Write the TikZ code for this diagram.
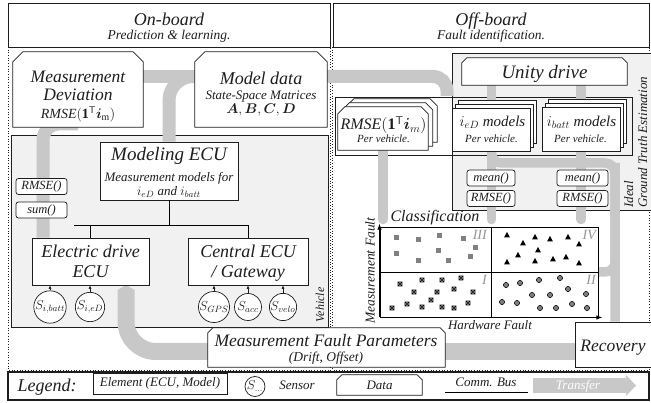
\RequirePackage{fix-cm}
\documentclass[tikz,border=0pt]{standalone}
\usepackage{amsmath}
\usepackage{bm}
\usepackage{fontspec}
\setmainfont{Liberation Serif}
\usetikzlibrary{arrows.meta}
\pgfdeclarelayer{back}
\pgfdeclarelayer{bg}
\pgfsetlayers{back,bg,main}
\newcommand\fsz[2]{\fontsize{#1}{#2}\selectfont}
\newcommand\databox[2]{\filldraw[datafill] (#1.south west) -- ([yshift=-#2]#1.north west) -- ([xshift=#2]#1.north west) -- ([xshift=-#2]#1.north east) -- ([yshift=-#2]#1.north east) -- (#1.south east) -- cycle;}
\newcommand\rmsem{\mathit{RMSE}(\mathbf{1}^{\mathsf{T}}\bm{i}_{\mathrm{m}})}
\definecolor{bandc}{RGB}{200,200,200}
\definecolor{panel}{RGB}{241,241,241}
\definecolor{ink}{RGB}{30,30,30}
\definecolor{sqc}{RGB}{128,128,128}
\definecolor{cic}{RGB}{125,125,125}
\definecolor{qlab}{RGB}{150,150,150}
\begin{document}
\begin{tikzpicture}[x=1pt,y=-1pt,
  every node/.style={text=ink, inner sep=0pt},
  geo/.style={rectangle, inner sep=0pt},
  elem/.style={rectangle, draw=ink, fill=white, line width=0.8pt, inner sep=0pt},
  datafill/.style={draw=ink, fill=white, line width=0.8pt},
  fn/.style={rectangle, draw=ink, fill=white, line width=0.7pt, rounded corners=2.5pt, inner sep=0pt, minimum height=16pt, font=\itshape\fsz{12.5}{12.5}},
  sensor/.style={circle, draw=ink, fill=white, line width=0.7pt, inner sep=0pt, minimum size=27pt, font=\fsz{13}{13}},
  tx/.style={font=\itshape\fsz{#1}{#1}, anchor=base},
  band/.style={draw=bandc, line width=13pt},
  bandn/.style={draw=bandc, line width=9.5pt},
  bandw/.style={draw=bandc, line width=17pt},
  bus/.style={draw=black, line width=0.9pt},
  sarrow/.style={draw=ink, line width=0.6pt, -{Latex[length=3.5pt,width=3pt]}},
  axis/.style={draw=black, line width=1pt, -{Latex[length=6pt,width=4.5pt]}},
]
\useasboundingbox (0,0) rectangle (651,403);

% ---------------- headers
\node[elem, minimum width=322pt, minimum height=44pt] (onb) at (169,25) {};
\node[tx=18] (onbT) at (169,26) {On-board};
\node[tx=13.5] (onbS) at (169,40) {Prediction \& learning.};
\node[elem, minimum width=316pt, minimum height=44pt] (offb) at (491,25) {};
\node[tx=18] (offbT) at (491,26) {Off-board};
\node[tx=13.5] (offbS) at (491,40) {Fault identification.};

% ---------------- on-board
\node[geo, minimum width=130pt, minimum height=75pt] (measdev) at (78,89.5) {};
\databox{measdev}{10pt}
\node[tx=17.5] (measdevA) at (78,83) {Measurement};
\node[tx=17.5] (measdevB) at (78,101) {Deviation};
\node[tx=14] (measdevC) at (78,118.5) {$\rmsem$};

\node[geo, minimum width=132pt, minimum height=75pt] (modeldata) at (261,89.5) {};
\databox{modeldata}{10pt}
\node[tx=18] (mdA) at (261,85) {Model data};
\node[tx=13] (mdB) at (261,100) {State-Space Matrices};
\node[tx=14] (mdC) at (261,114) {$\bm{A},\bm{B},\bm{C},\bm{D}$};

\node[elem, minimum width=138pt, minimum height=58pt] (modecu) at (169,171) {};
\node[tx=19] (modecuA) at (169,161) {Modeling ECU};
\node[tx=13] (modecuB) at (169,181.5) {Measurement models for};
\node[tx=13] (modecuC) at (169,196) {$i_{eD}$ and $i_{batt}$};

\node[fn, minimum width=51pt] (rmsefn) at (41.5,186.5) {RMSE()};
\node[fn, minimum width=51pt] (sumfn) at (41.5,210) {sum()};

\node[elem, minimum width=117pt, minimum height=47pt] (elec) at (90.5,261.5) {};
\node[tx=18] (elecA) at (90.5,258) {Electric drive};
\node[tx=18] (elecB) at (90.5,278) {ECU};
\node[elem, minimum width=120pt, minimum height=47pt] (central) at (248,261.5) {};
\node[tx=18] (centralA) at (248,258) {Central ECU};
\node[tx=18] (centralB) at (248,278) {/ Gateway};

\node[sensor] (sib) at (50,307) {$S_{i,batt}$};
\node[sensor] (sie) at (90,307) {$S_{i,eD}$};
\node[sensor] (sgps) at (214,307) {$S_{GPS}$};
\node[sensor] (sacc) at (248,307) {$S_{acc}$};
\node[sensor] (svelo) at (283,307) {$S_{velo}$};
\draw[sarrow] (sib) -- (sib |- elec.south);
\draw[sarrow] (sie) -- (sie |- elec.south);
\draw[sarrow] (sgps) -- (sgps |- central.south);
\draw[sarrow] (sacc) -- (sacc |- central.south);
\draw[sarrow] (svelo) -- (svelo |- central.south);

\coordinate (busL) at (74,225);
\draw[bus] (modecu.south) -- (modecu.south |- busL);
\draw[bus] (busL) -- (central.north |- busL);
\draw[bus] (elec.north |- busL) -- (elec.north);
\draw[bus] (central.north |- busL) -- (central.north);

\node[tx=12, rotate=90] (vehlbl) at (324,305) {Vehicle};

\node[geo, minimum width=237pt, minimum height=39pt] (mfp) at (326.5,347.5) {};
\databox{mfp}{5pt}
\node[tx=17.5] (mfpA) at (326,347) {Measurement Fault Parameters};
\node[tx=13.5] (mfpB) at (326,362) {(Drift, Offset)};

\node[elem, minimum width=76pt, minimum height=45pt] (recovery) at (613,344.5) {};
\node[tx=17.5] (recoveryT) at (613,351.5) {Recovery};

% ---------------- off-board
\node[geo, minimum width=165pt, minimum height=27pt] (unity) at (544.5,71.5) {};
\databox{unity}{5pt}
\node[tx=19] (unityT) at (544.5,78.5) {Unity drive};

\node[geo, minimum width=90pt, minimum height=43pt] (rmsesB) at (392,120.5) {};
\databox{rmsesB}{7pt}
\node[geo, minimum width=90pt, minimum height=43pt] (rmsesA) at (387.5,124.5) {};
\databox{rmsesA}{7pt}
\node[geo, minimum width=90pt, minimum height=43pt] (rmses) at (383,128.5) {};
\databox{rmses}{7pt}
\node[tx=16] (rmsesT) at (383.5,130) {$\mathit{RMSE}(\mathbf{1}^{\mathsf{T}}\bm{i}_{m})$};
\node[tx=11] (rmsesP) at (383.5,143) {Per vehicle.};

\node[elem, minimum width=78pt, minimum height=43pt] (iedB) at (497.5,121.5) {};
\node[elem, minimum width=78pt, minimum height=43pt] (iedA) at (494.5,125.5) {};
\node[elem, minimum width=78pt, minimum height=43pt] (ied) at (491.5,129.5) {};
\node[tx=15] (iedT) at (492.5,126.5) {$i_{eD}$ models};
\node[tx=11] (iedP) at (491.5,143) {Per vehicle.};

\node[elem, minimum width=78pt, minimum height=44pt] (ibattB) at (587,121) {};
\node[elem, minimum width=78pt, minimum height=44pt] (ibattA) at (584,125) {};
\node[elem, minimum width=78pt, minimum height=44pt] (ibatt) at (581,129) {};
\node[tx=15] (ibattT) at (581.5,126.5) {$i_{batt}$ models};
\node[tx=11] (ibattP) at (580.5,143) {Per vehicle.};

\node[fn, minimum width=48pt] (meanL) at (491,178) {mean()};
\node[fn, minimum width=48pt] (rmseL) at (491,198.5) {RMSE()};
\node[fn, minimum width=51pt] (meanR) at (582.5,178) {mean()};
\node[fn, minimum width=51pt] (rmseR) at (582.5,198.5) {RMSE()};

\node[tx=13, rotate=90, anchor=base west] (idealA) at (633,208) {Ideal};
\node[tx=13, rotate=90, anchor=base west] (idealB) at (647,208) {Ground Truth Estimation};

% ---------------- classification
\node[draw=black, line width=0.9pt, minimum width=218pt, minimum height=90pt] (cls) at (489,272) {};
\coordinate (midx) at (491,0);
\draw[black, line width=0.8pt] (cls.north -| midx) -- (cls.south -| midx);
\draw[black, line width=0.8pt] (cls.west) -- (cls.east);
\draw[axis] (cls.south west) -- ([yshift=3pt]cls.north west);
\draw[axis] (cls.south west) -- ([xshift=4pt]cls.south east);

\foreach \x/\y in {396/238,418/240,439/236,463/239,475/248,396/254,418/261,438/251,448/261,470/257}
  \fill[sqc] (\x-2.5,\y-2.5) rectangle (\x+2.5,\y+2.5);
\foreach \x/\y in {400/284,422/280,442/280,461/278,414/292,437/292,454/289,473/292,392/308,407/304,422/307,431/300,442/307,454/308,468/303}
  \draw[black, line width=0.6pt] (\x-2,\y-2) rectangle (\x+2,\y+2) (\x-2,\y-2) -- (\x+2,\y+2) (\x-2,\y+2) -- (\x+2,\y-2);
\foreach \x/\y in {507/235,523/243,535/237,550/239,568/237,579/244,538/250,518/255,507/262,535/261,553/259,566/257,579/263}
  \fill[black] (\x-3,\y+2.5) -- (\x+3,\y+2.5) -- (\x,\y-3) -- cycle;
\foreach \x/\y in {506/285,520/283,539/280,560/278,568/289,586/294,532/295,550/295,502/302,517/303,540/308,556/308,572/304,587/308}
  \filldraw[fill=cic, draw=black, line width=0.5pt] (\x,\y) circle (2.6pt);

\node[tx=16] (clsT) at (435,221.5) {Classification};
\node[tx=13.5, rotate=90] (clsY) at (374.5,270.5) {Measurement Fault};
\node[tx=13] (clsX) at (490,330) {Hardware Fault};
\node[font=\itshape\fsz{14}{14}, text=qlab, anchor=north east] (q3) at (487,230) {III};
\node[font=\itshape\fsz{14}{14}, text=qlab, anchor=north east] (q4) at (596,230) {IV};
\node[font=\itshape\fsz{14}{14}, text=qlab, anchor=north east] (q1) at (487,275) {I};
\node[font=\itshape\fsz{14}{14}, text=qlab, anchor=north east] (q2) at (596,275) {II};

% ---------------- legend
\node[elem, line width=1.2pt, fill=none, minimum width=641pt, minimum height=28pt] (legend) at (328.5,386) {};
\node[tx=18] (legT) at (47,391.5) {Legend:};
\node[elem, minimum width=134pt, minimum height=21pt, font=\itshape\fsz{13}{13}] (legElem) at (160,383.5) {Element (ECU, Model)};
\node[sensor, minimum size=20pt, font=\fsz{13}{13}] (legSens) at (255,386.5) {$S_{\ldots}$};
\node[tx=13] (legSensT) at (297,390) {Sensor};
\node[geo, minimum width=85pt, minimum height=20pt] (legData) at (379.5,385) {};
\databox{legData}{5pt}
\node[tx=13] (legDataT) at (379.5,390) {Data};
\node[tx=13] (legBus) at (486,386.7) {Comm. Bus};
\coordinate (bl1) at (445,392);
\coordinate (bl2) at (528,392);
\draw[bus] (bl1) -- (bl2);
\coordinate (tr1) at (533,385.5);
\coordinate (tr2) at (636,385.5);
\draw[draw=bandc, line width=15pt, -{Triangle[width=21pt,length=10pt,line width=0pt]}] (tr1) -- (tr2);
\node[tx=13, text=white] (trT) at (578,390) {Transfer};

% ---------------- panels
\begin{pgfonlayer}{back}
\fill[white] (0,0) rectangle (651,403);
\draw[ink, dotted, line width=0.7pt] (8,47) rectangle (330.5,370);
\draw[ink, dotted, line width=0.7pt] (332.5,47) rectangle (649,370);
\draw[ink, line width=0.7pt, fill=panel] (11,135) rectangle (328,327);
\draw[ink, line width=0.7pt, fill=panel] (452,53) rectangle (651,210);
\draw[ink, line width=0.7pt] (335,97) rectangle (632,155);
\end{pgfonlayer}

% ---------------- transfer bands
\begin{pgfonlayer}{bg}
\coordinate (tA) at (0,76.5);
\draw[band] (measdev.east |- tA) -- (modeldata.west |- tA);
\draw[band, rounded corners=24pt] (modecu.north) -- (modecu.north |- tA) -- (modeldata.west |- tA);
\coordinate (tB) at (447,96);
\draw[band, rounded corners=14pt] (modeldata.east |- tA) -- (tB |- tA) -- (tB);
\coordinate (lb) at (43,124);
\draw[band, rounded corners=16pt] (elec.north -| lb) -- (lb) -- (lb -| measdev.south);
\draw[bandn, line cap=round, shorten >=7pt] (rmses.south) -- (rmses.south |- cls.north);
\draw[bandn] (unity.south -| ied.north) -- (ied.north);
\draw[bandn] (unity.south -| ibatt.north) -- (ibatt.north);
\draw[bandn, line cap=round, shorten >=7pt] (ied.south) -- (ied.south |- cls.north);
\draw[bandn, line cap=round, shorten >=7pt] (ibatt.south) -- (ibatt.south |- cls.north);
\coordinate (rc) at (615,163);
\coordinate (rb) at (615,272);
\draw[bandn, rounded corners=10pt] (ied.south) -- (ied.south |- rc) -- (rc) -- (rc |- recovery.north);
\draw[bandn, rounded corners=10pt] (rc) -- (rb) -- (rb -| cls.east);
\coordinate (mb) at (0,351.5);
\coordinate (ea) at (126,285);
\draw[bandw] (mfp.east |- mb) -- (recovery.west |- mb);
\draw[bandw, rounded corners=30pt, -{Triangle[width=17pt,length=5pt,line width=0pt]}] (mfp.west |- mb) -- (ea |- mb) -- (ea);
\end{pgfonlayer}
\end{tikzpicture}
\end{document}
